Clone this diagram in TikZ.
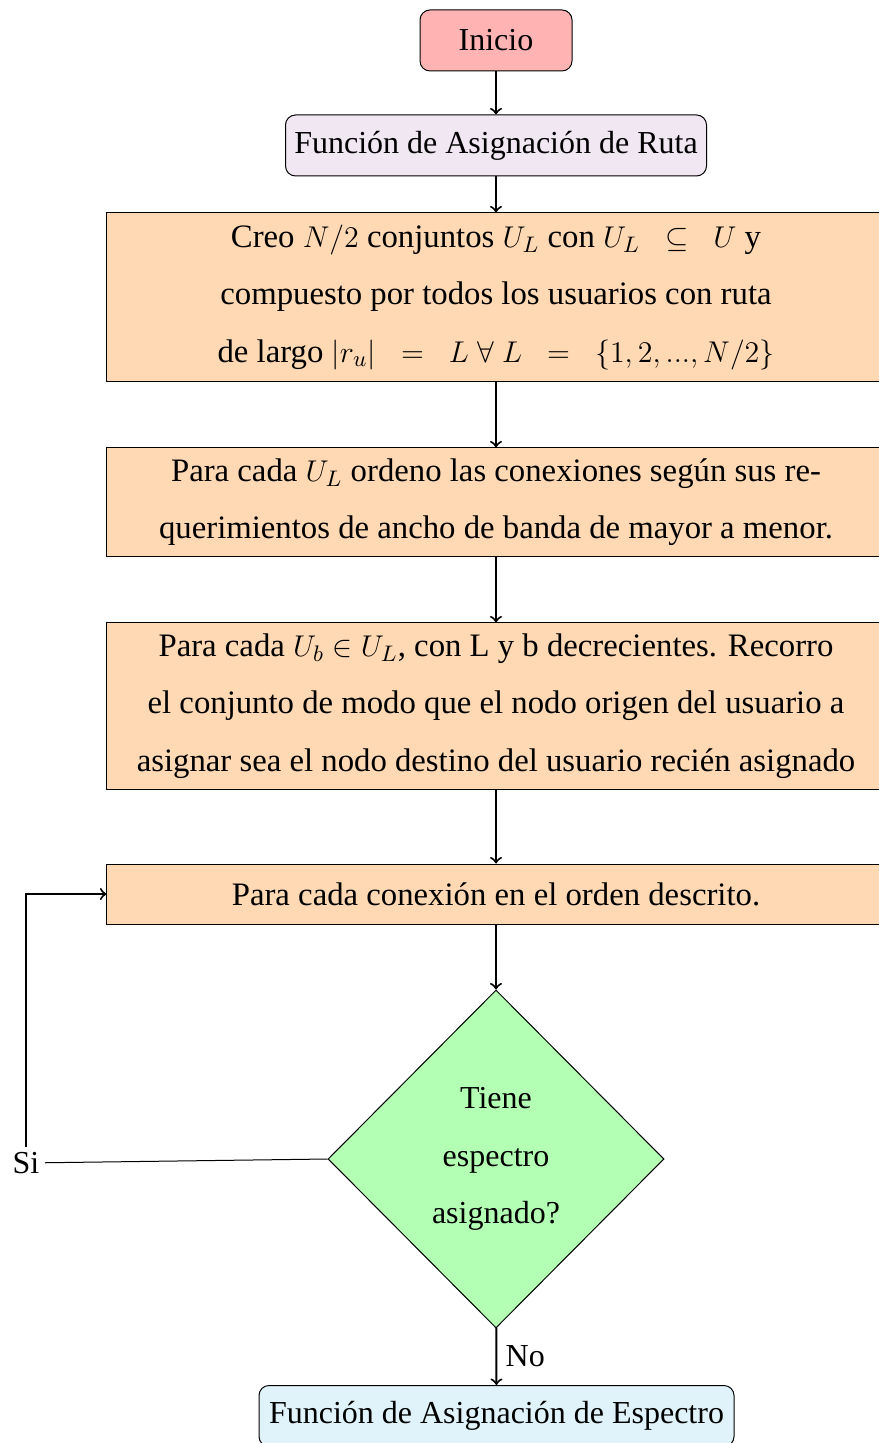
\documentclass[tikz,border=0pt]{standalone}
\usepackage{amsmath,amssymb}
\usepackage{fontspec}
\setmainfont{Liberation Serif}
\usetikzlibrary{shapes.geometric}
\definecolor{startc}{RGB}{255,179,179}
\definecolor{rutac}{RGB}{241,231,243}
\definecolor{procc}{RGB}{255,217,179}
\definecolor{decc}{RGB}{179,255,179}
\definecolor{endc}{RGB}{224,243,250}
\tikzset{
base/.style={draw,font=\fontsize{12.8pt}{23pt}\selectfont,align=center,inner sep=0pt},
roundbox/.style={base,rounded corners=4pt,minimum height=24.4pt},
procbox/.style={base,fill=procc,minimum width=311.2pt,font=\fontsize{13.1pt}{23pt}\selectfont},
decision/.style={base,diamond,fill=decc,minimum width=134.4pt,minimum height=135.2pt},
flow/.style={->,thick}
}

\begin{document}
\begin{tikzpicture}[x=0.4pt,y=-0.4pt]
\useasboundingbox (0,0) rectangle (878,1443);
\node[roundbox,fill=startc,minimum width=60.8pt] (inicio) at (496,40.5) {Inicio};
\node[roundbox,fill=rutac,minimum width=168.4pt] (ruta) at (496,145.5) {Función de Asignación de Ruta};
\node[procbox,minimum height=67.6pt] (creo) at (496,297.5) {Creo $N/2$ conjuntos $U_L$ con $U_L\;\;\subseteq\;\;U$ y\\
compuesto por todos los usuarios con ruta\\
de largo $|r_u|\;\;=\;\;L\;\forall\;L\;\;=\;\;\{1,2,...,N/2\}$};
\node[procbox,minimum height=43.2pt] (orden) at (496,502) {Para cada $U_L$ ordeno las conexiones según sus re-\\
querimientos de ancho de banda de mayor a menor.};
\node[procbox,minimum height=66.4pt] (recorro) at (496,706) {Para cada $U_b\in U_L$, con L y b decrecientes. Recorro\\
el conjunto de modo que el nodo origen del usuario a\\
asignar sea el nodo destino del usuario recién asignado};
\node[procbox,minimum height=24pt] (conex) at (496,894) {Para cada conexión en el orden descrito.};
\node[decision] (tiene) at (496,1159) {Tiene\\espectro\\asignado?};
\node[roundbox,fill=endc,minimum width=190pt] (espectro) at (496.5,1416) {Función de Asignación de Espectro};
\node[font=\fontsize{12.8pt}{23pt}\selectfont,inner sep=2pt] (si) at (26,1163) {Si};

\draw[flow] (inicio) -- (ruta);
\draw[flow] (ruta) -- (creo);
\draw[flow] (creo) -- (orden);
\draw[flow] (orden) -- (recorro);
\draw[flow] (recorro) -- (conex);
\draw[flow] (conex) -- (tiene);
\draw[flow] (tiene) -- node[right,font=\fontsize{12.8pt}{23pt}\selectfont] {No} (espectro);
\draw (tiene.west) -- (si);
\draw[flow] (si) |- (conex.west);

\end{tikzpicture}
\end{document}
